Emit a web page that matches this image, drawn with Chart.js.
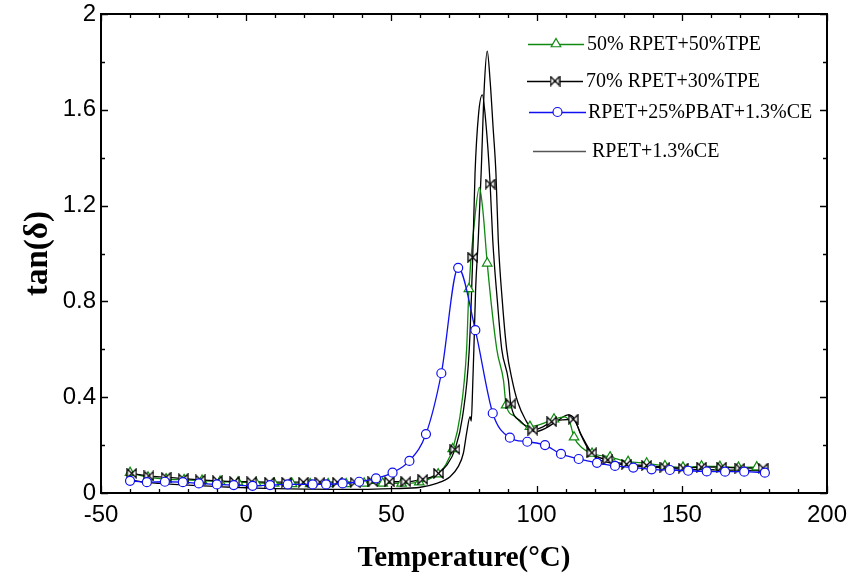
<!DOCTYPE html>
<html>
<head>
<meta charset="utf-8">
<script src="https://cdn.jsdelivr.net/npm/chart.js@4.4.1/dist/chart.umd.min.js"></script>
<style>
  html, body { margin: 0; padding: 0; background: #fff; }
  #wrap { width: 849px; height: 577px; }
</style>
</head>
<body>
<div id="wrap"><canvas id="dma" width="849" height="577"></canvas></div>
<script>
// Series labels
const labelGreen = '50% RPET+50%TPE';
const labelBow = '70% RPET+30%TPE';
const labelBlue = 'RPET+25%PBAT+1.3%CE';
const labelPlain = 'RPET+1.3%CE';

// RPET+25%PBAT+1.3%CE (every point has a circle)
const blueTemp = [-40.0, -34.2, -28.0, -21.8, -16.3, -10.1, -4.3, 2.2, 8.2, 14.3, 22.9, 27.5, 33.2, 38.9, 44.7,
  50.4, 56.2, 61.9, 67.2, 73.0, 78.9, 84.9, 90.8, 96.8, 102.9, 108.4, 114.5, 120.8, 127.0, 133.3, 139.6,
  145.9, 152.2, 158.6, 164.9, 171.5, 178.6];
const blueTan = [0.051, 0.045, 0.047, 0.045, 0.040, 0.036, 0.033, 0.030, 0.033, 0.036, 0.036, 0.036, 0.040, 0.047, 0.061,
  0.085, 0.134, 0.246, 0.50, 0.94, 0.68, 0.333, 0.231, 0.214, 0.200, 0.163, 0.142, 0.126, 0.113, 0.106, 0.099,
  0.096, 0.093, 0.090, 0.089, 0.089, 0.085];

// 50% RPET+50%TPE: points with a triangle marker
const greenMarkTemp = [-40.0, -33.8, -27.6, -21.4, -15.2, -9.0, -2.8, 3.4, 9.6, 15.8, 22.0, 28.2, 34.4, 40.6, 47.0,
  53.5, 59.6, 66.1, 71.1, 76.7, 83.0, 89.5, 97.7, 106.0, 112.9, 119.1, 125.3, 131.5, 137.9, 144.2, 150.4,
  156.8, 163.1, 169.5, 175.8];
const greenMarkTan = [0.085, 0.066, 0.058, 0.055, 0.052, 0.048, 0.045, 0.042, 0.040, 0.038, 0.038, 0.038, 0.038, 0.040, 0.040,
  0.040, 0.045, 0.079, 0.184, 0.852, 0.959, 0.367, 0.277, 0.308, 0.233, 0.165, 0.150, 0.131, 0.124, 0.113, 0.107,
  0.112, 0.110, 0.107, 0.108];
// 50% RPET+50%TPE: points on the line between markers
const greenLineTemp = [63.0, 68.8, 73.6, 75.9, 78.5, 80.3, 81.5, 86.3, 88.6, 92.5, 95.0, 101.0, 109.5, 111.3, 115.5];
const greenLineTan = [0.058, 0.12, 0.319, 0.60, 1.12, 1.276, 1.18, 0.60, 0.47, 0.32, 0.29, 0.285, 0.318, 0.30, 0.19];

// 70% RPET+30%TPE: points with a bow-tie marker
const bowMarkTemp = [-39.4, -33.5, -27.6, -21.7, -15.8, -9.9, -4.0, 1.9, 8.0, 13.9, 19.7, 25.4, 31.4, 37.5, 43.6,
  49.3, 55.0, 60.8, 66.2, 71.9, 78.0, 84.0, 91.1, 98.7, 105.2, 112.6, 119.0, 124.5, 131.0, 137.9, 144.2,
  150.5, 156.8, 163.7, 170.0, 178.0];
const bowMarkTan = [0.082, 0.071, 0.066, 0.060, 0.055, 0.051, 0.048, 0.047, 0.045, 0.045, 0.045, 0.045, 0.045, 0.045, 0.047,
  0.047, 0.047, 0.057, 0.082, 0.182, 0.984, 1.29, 0.372, 0.263, 0.298, 0.308, 0.168, 0.138, 0.120, 0.115, 0.108,
  0.104, 0.108, 0.108, 0.104, 0.104];
// 70% RPET+30%TPE: points on the line between markers
const bowLineTemp = [63.5, 69.0, 74.5, 76.8, 78.8, 80.0, 81.3, 82.5, 84.9, 86.5, 88.0, 90.3, 94.5, 102.0, 109.0, 115.5];
const bowLineTan = [0.065, 0.115, 0.319, 0.597, 1.335, 1.58, 1.662, 1.55, 1.056, 0.80, 0.60, 0.47, 0.30, 0.275, 0.305, 0.24];

// RPET+1.3%CE (line only)
const plainTemp = [-40, -35, -30, -25, -20, -15, -10, -5, 0, 10, 20, 30, 40, 50, 60, 65.6, 70.2, 73.0, 74.8, 75.9,
  77.1, 77.5, 78.0, 78.4, 79.0, 79.9, 80.9, 82.0, 83.0, 84.0, 85.0, 86.0, 86.8, 88.2, 89.7, 91.6, 93.5, 96.0,
  99.4, 103, 107, 110.9, 113, 115, 118.4, 121.8, 126, 130, 140, 150, 160, 170, 178];
const plainTan = [0.055, 0.045, 0.040, 0.036, 0.033, 0.030, 0.027, 0.024, 0.022, 0.018, 0.016, 0.015, 0.015, 0.018, 0.024, 0.040, 0.068, 0.11, 0.167, 0.25,
  0.319, 0.30, 0.45, 0.60, 0.85, 1.056, 1.335, 1.70, 1.845, 1.72, 1.53, 1.335, 1.056, 0.80, 0.60, 0.47, 0.38, 0.31,
  0.256, 0.27, 0.30, 0.326, 0.31, 0.25, 0.172, 0.138, 0.125, 0.118, 0.108, 0.100, 0.097, 0.095, 0.093];

// axis ranges
const xMin = -50, xMax = 200, xStep = 50, xMinor = 10;
const yMin = 0, yMax = 2, yStep = 0.4, yMinor = 0.2;

const GREEN = '#108a10';
const BLUE = '#1010f0';
const BLACK = '#000000';

const pts = (xs, ys) => xs.map((x, i) => ({ x, y: ys[i] }));
const merged = (xs1, ys1, xs2, ys2) => pts(xs1, ys1).concat(pts(xs2, ys2)).sort((a, b) => a.x - b.x);

function bowtie(size, color) {
  const c = document.createElement('canvas');
  c.width = c.height = size;
  const g = c.getContext('2d');
  const p = 1, q = size - 1;
  g.beginPath();
  g.moveTo(p, p); g.lineTo(q, q); g.lineTo(q, p); g.lineTo(p, q); g.closePath();
  g.fillStyle = '#fff';
  g.fill();
  g.strokeStyle = color;
  g.lineWidth = 1.3;
  g.stroke();
  return c;
}
const bowImg = bowtie(11, BLACK);

const lineBase = { showLine: true, borderWidth: 1.3, pointRadius: 0, cubicInterpolationMode: 'monotone' };
const markBase = { showLine: false, pointBackgroundColor: '#fff', pointBorderWidth: 1.2 };

const datasets = [
  { ...lineBase, label: labelBlue, data: pts(blueTemp, blueTan), borderColor: BLUE,
    pointRadius: 4.5, pointStyle: 'circle', pointBorderColor: BLUE, pointBackgroundColor: '#fff', pointBorderWidth: 1.2 },
  { ...markBase, label: labelBow, data: pts(bowMarkTemp, bowMarkTan), pointStyle: bowImg, pointRadius: 5.5 },
  { ...markBase, label: labelGreen, data: pts(greenMarkTemp, greenMarkTan), pointStyle: 'triangle',
    pointRadius: 5.5, pointBorderColor: GREEN },
  { ...lineBase, label: labelBow, data: merged(bowMarkTemp, bowMarkTan, bowLineTemp, bowLineTan), borderColor: BLACK },
  { ...lineBase, label: labelGreen, data: merged(greenMarkTemp, greenMarkTan, greenLineTemp, greenLineTan), borderColor: GREEN },
  { ...lineBase, label: labelPlain, data: pts(plainTemp, plainTan), borderColor: BLACK },
];

// box frame with inward major/minor ticks on all four sides
const framePlugin = {
  id: 'frame',
  afterDraw(chart) {
    const { ctx, chartArea: a, scales: { x, y } } = chart;
    ctx.save();
    ctx.strokeStyle = '#000';
    ctx.lineWidth = 1.3;
    ctx.beginPath();
    for (let t = xMin; t <= xMax + 1e-9; t += xMinor) {
      const px = Math.round(x.getPixelForValue(t)) + 0.5;
      const len = Math.abs(t % xStep) < 1e-9 ? 7 : 4;
      ctx.moveTo(px, a.bottom); ctx.lineTo(px, a.bottom - len);
      ctx.moveTo(px, a.top); ctx.lineTo(px, a.top + len);
    }
    for (let i = 0; yMin + i * yMinor <= yMax + 1e-9; i++) {
      const py = Math.round(y.getPixelForValue(yMin + i * yMinor)) + 0.5;
      const len = i % 2 === 0 ? 7 : 4;
      ctx.moveTo(a.left, py); ctx.lineTo(a.left + len, py);
      ctx.moveTo(a.right, py); ctx.lineTo(a.right - len, py);
    }
    ctx.stroke();
    ctx.lineWidth = 2;
    ctx.strokeRect(a.left, a.top, a.right - a.left, a.bottom - a.top);
    ctx.restore();
  }
};

// legend: line with marker in the middle, then the label
const legendRows = [
  { ds: 4, mark: 2, x0: 528, x1: 584, tx: 587, y: 44 },
  { ds: 3, mark: 1, x0: 527, x1: 583, tx: 586, y: 81 },
  { ds: 0, mark: 0, x0: 529, x1: 586, tx: 588, y: 112 },
  { ds: 5, mark: null, x0: 533, x1: 586, tx: 592, y: 151 },
];
const legendPlugin = {
  id: 'legendBox',
  afterDraw(chart) {
    const { ctx } = chart;
    ctx.save();
    ctx.font = '20px "Liberation Serif", "Times New Roman", serif';
    ctx.textBaseline = 'middle';
    legendRows.forEach(r => {
      const ds = chart.data.datasets[r.ds];
      ctx.strokeStyle = r.ds === 5 ? '#555' : ds.borderColor;
      ctx.lineWidth = 1.5;
      ctx.beginPath();
      ctx.moveTo(r.x0, r.y + 0.5); ctx.lineTo(r.x1, r.y + 0.5);
      ctx.stroke();
      if (r.mark !== null) {
        const m = chart.data.datasets[r.mark];
        ctx.fillStyle = '#fff';
        ctx.strokeStyle = m.pointBorderColor || BLACK;
        ctx.lineWidth = m.pointBorderWidth || 1.2;
        Chart.helpers.drawPoint(ctx, { pointStyle: m.pointStyle, radius: m.pointRadius, rotation: 0, borderWidth: ctx.lineWidth },
          (r.x0 + r.x1) / 2, r.y);
      }
      ctx.fillStyle = '#000';
      ctx.fillText(ds.label, r.tx, r.y + 1);
    });
    ctx.restore();
  }
};

new Chart(document.getElementById('dma'), {
  type: 'scatter',
  data: { datasets },
  options: {
    responsive: false,
    animation: false,
    layout: { padding: { top: 14, right: 22, left: 0, bottom: 0 } },
    plugins: { legend: { display: false }, tooltip: { enabled: false } },
    elements: { line: { tension: 0 } },
    scales: {
      x: {
        type: 'linear', min: xMin, max: xMax,
        grid: { display: false, drawTicks: false },
        border: { display: false },
        ticks: { stepSize: xStep, color: '#000', padding: 8, maxRotation: 0,
          font: { family: '"Liberation Sans", Arial, sans-serif', size: 24 } },
        title: { display: true, text: 'Temperature(°C)', color: '#000', padding: { top: 0, bottom: 1 },
          font: { family: '"Liberation Serif", "Times New Roman", serif', size: 29, weight: 'bold' } },
        afterFit(s) { s.height = 84; s.paddingLeft = 0; s.paddingRight = 0; }
      },
      y: {
        type: 'linear', min: yMin, max: yMax,
        grid: { display: false, drawTicks: false },
        border: { display: false },
        ticks: { stepSize: yStep, color: '#000', padding: 5,
          callback: v => String(+v.toFixed(1)),
          font: { family: '"Liberation Sans", Arial, sans-serif', size: 24 } },
        title: { display: true, text: 'tan(δ)', color: '#000', padding: { top: 19, bottom: 0 },
          font: { family: '"Liberation Serif", "Times New Roman", serif', size: 33, weight: 'bold' } },
        afterFit(s) { s.width = 101; s.paddingTop = 0; s.paddingBottom = 0; }
      }
    }
  },
  plugins: [framePlugin, legendPlugin]
});
</script>
</body>
</html>
